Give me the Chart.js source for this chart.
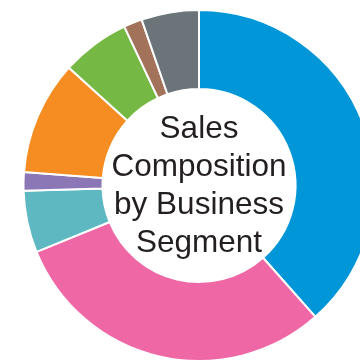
<!DOCTYPE html>
<html>
<head>
<meta charset="utf-8">
<script src="https://cdn.jsdelivr.net/npm/chart.js@4"></script>
<style>
  html, body { margin: 0; padding: 0; background: #fff; overflow: hidden; width: 360px; height: 362px; }
  #wrap { position: absolute; left: 0; top: 0; width: 398px; height: 362px; }
</style>
</head>
<body>
<div id="wrap"><canvas id="c"></canvas></div>
<script>
const segments = ["Segment 1", "Segment 2", "Segment 3", "Segment 4", "Segment 5", "Segment 6", "Segment 7", "Segment 8"];
const shares = [38.5, 30.4, 5.7, 1.7, 10.5, 6.3, 1.7, 5.3];
const colors = ["#0096D8", "#F067A6", "#5DB8C1", "#8B77B6", "#F68D22", "#75B944", "#A2735A", "#6A7479"];
const centerLines = ["Sales", "Composition", "by Business", "Segment"];

const centerText = {
  id: 'centerText',
  afterDraw(chart) {
    const ctx = chart.ctx;
    const meta = chart.getDatasetMeta(0);
    const arc = meta.data[0];
    const cx = arc.x, cy = arc.y;
    ctx.save();
    ctx.fillStyle = '#231F20';
    ctx.font = '31.5px "Liberation Sans", Arial, sans-serif';
    ctx.textAlign = 'center';
    ctx.textBaseline = 'alphabetic';
    const lh = 38;
    centerLines.forEach((t, i) => {
      ctx.fillText(t, cx, cy + 9.5 + (i - 1.5) * lh);
    });
    ctx.restore();
  }
};

new Chart(document.getElementById('c'), {
  type: 'doughnut',
  data: {
    labels: segments,
    datasets: [{
      data: shares,
      backgroundColor: colors,
      borderColor: '#ffffff',
      borderWidth: 2,
      hoverOffset: 0
    }]
  },
  options: {
    responsive: true,
    maintainAspectRatio: false,
    animation: false,
    cutout: '55%',
    layout: { padding: { top: 9, bottom: 0, left: 0, right: 0 } },
    plugins: {
      legend: { display: false },
      tooltip: { enabled: false },
      title: { display: false }
    }
  },
  plugins: [centerText]
});
</script>
</body>
</html>
